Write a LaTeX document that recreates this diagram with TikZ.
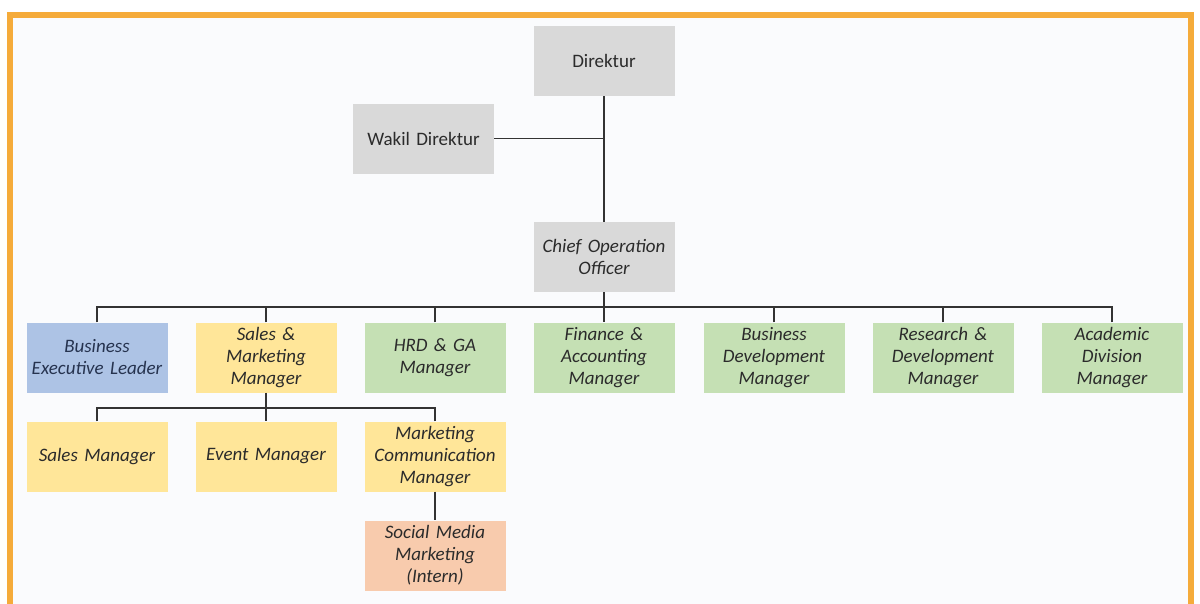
\documentclass[tikz,border=0pt]{standalone}
\usepackage{fontspec}
\setmainfont{Carlito}[WordSpace=0.75]
\definecolor{frameor}{HTML}{F5AB3A}
\definecolor{bgtint}{HTML}{FAFBFD}
\definecolor{boxgray}{HTML}{D9D9D9}
\definecolor{boxblue}{HTML}{ADC3E5}
\definecolor{boxyel}{HTML}{FFE699}
\definecolor{boxgreen}{HTML}{C5E0B4}
\definecolor{boxpeach}{HTML}{F8CBAD}
\definecolor{txtdark}{HTML}{2B2B2B}
\definecolor{txtblue}{HTML}{26334F}
\definecolor{linedark}{HTML}{333333}
\tikzset{
  orgbox/.style={minimum width=141pt, minimum height=70pt, text width=139pt, inner sep=1pt,
    align=center, text=txtdark, font=\fontsize{19}{22}\selectfont\itshape},
  graybox/.style={orgbox, fill=boxgray},
  uprightbox/.style={graybox, font=\fontsize{19}{22}\selectfont},
  bluebox/.style={orgbox, fill=boxblue, text=txtblue},
  yelbox/.style={orgbox, fill=boxyel},
  greenbox/.style={orgbox, fill=boxgreen},
  peachbox/.style={orgbox, fill=boxpeach},
  conn/.style={draw=linedark, line width=1.7pt}
}
\begin{document}
\begin{tikzpicture}[x=1pt,y=-1pt]
\useasboundingbox (0,0) rectangle (1200,603);
\fill[white] (0,0) rectangle (1200,603);
\fill[frameor] (7,12) rectangle (1194,610);
\fill[bgtint] (13,18) rectangle (1188,612);
% top
\node[uprightbox] (dir) at (604,61) {Direktur};
\node[uprightbox] (wakil) at (423.5,138.5) {Wakil Direktur};
\node[graybox] (coo) at (604,257) {Chief Operation\\Officer};
% row 2
\node[bluebox] (bel) at (97,357.5) {Business\\Executive Leader};
\node[yelbox] (sm) at (266,357.5) {Sales \&\\Marketing\\Manager};
\node[greenbox] (hrd) at (435,357.5) {HRD \& GA\\Manager};
\node[greenbox] (fin) at (604,357.5) {Finance \&\\Accounting\\Manager};
\node[greenbox] (bdm) at (774,357.5) {Business\\Development\\Manager};
\node[greenbox] (rnd) at (943,357.5) {Research \&\\Development\\Manager};
\node[greenbox] (adm) at (1112,357.5) {Academic\\Division\\Manager};
% row 3
\node[yelbox] (sales) at (97,456.5) {Sales Manager};
\node[yelbox] (event) at (266,456.5) {Event Manager};
\node[yelbox] (mcm) at (435,456.5) {Marketing\\Communication\\Manager};
\node[peachbox] (smm) at (435,555.5) {Social Media\\Marketing\\(Intern)};
% connectors
\coordinate (bus) at (604,307);
\coordinate (bus2) at (266,408);
\draw[conn] (dir.south) -- (coo.north);
\draw[conn] (wakil.east) -- (wakil.east -| dir.south);
\draw[conn] (coo.south) -- (fin.north);
\draw[conn] (bel.north) |- (bus);
\draw[conn] (adm.north) |- (bus);
\draw[conn] (sm.north) -- (sm.north |- bus);
\draw[conn] (hrd.north) -- (hrd.north |- bus);
\draw[conn] (bdm.north) -- (bdm.north |- bus);
\draw[conn] (rnd.north) -- (rnd.north |- bus);
\draw[conn] (sm.south) -- (event.north);
\draw[conn] (sales.north) |- (bus2);
\draw[conn] (mcm.north) |- (bus2);
\draw[conn] (mcm.south) -- (smm.north);
\end{tikzpicture}
\end{document}
